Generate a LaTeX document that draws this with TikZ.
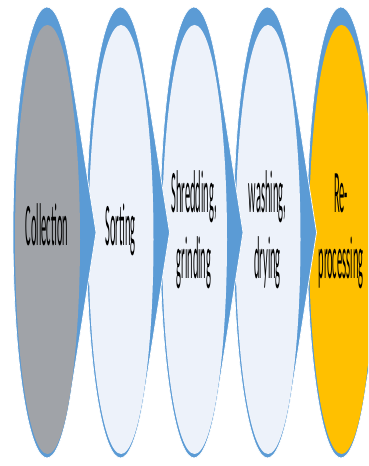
\documentclass[tikz,border=0pt]{standalone}
\usepackage{fontspec}
\setmainfont{Carlito}
\usetikzlibrary{positioning}
\definecolor{stageblue}{HTML}{5B9BD5}
\definecolor{grayfill}{HTML}{A0A3A8}
\definecolor{lightfill}{HTML}{EDF2FA}
\definecolor{goldfill}{HTML}{FFC000}
\newcommand{\stretchtext}[1]{\scalebox{1}[5.8]{\begin{tabular}{@{}c@{}}#1\end{tabular}}}

\begin{document}
\begin{tikzpicture}[x=1pt, y=1pt,
		stagearrow/.style={fill=stageblue, draw=white, line width=0.7pt},
		stagelabel/.style={font=\fontsize{10.4pt}{11.3pt}\selectfont, text=black, inner sep=0pt}]
	\useasboundingbox (0,0) rectangle (368,466);
	\clip (0,0) rectangle (368,466);
	% right to left, so every arrow tip lies over the next stage
	\foreach \cx/\col/\name/\txt in {341/goldfill/reprocess/{Re-\\processing},
			267.5/lightfill/washing/{washing,\\drying},
			194/lightfill/shredding/{Shredding,\\grinding},
			120.5/lightfill/sorting/{Sorting},
			47/grayfill/collection/{Collection}}{
		\filldraw[stagearrow] (\cx+49,233.5) -- ++(-25.41,162.4)
			arc[start angle=46.06, end angle=313.94, x radius=34, y radius=225.5] -- cycle;
		\fill[\col] (\cx+0.5,226.5) ellipse [x radius=32.5, y radius=214.5];
		\node[stagelabel] (\name) at (\cx,233.5) {\stretchtext{\txt}};
	}
\end{tikzpicture}
\end{document}
